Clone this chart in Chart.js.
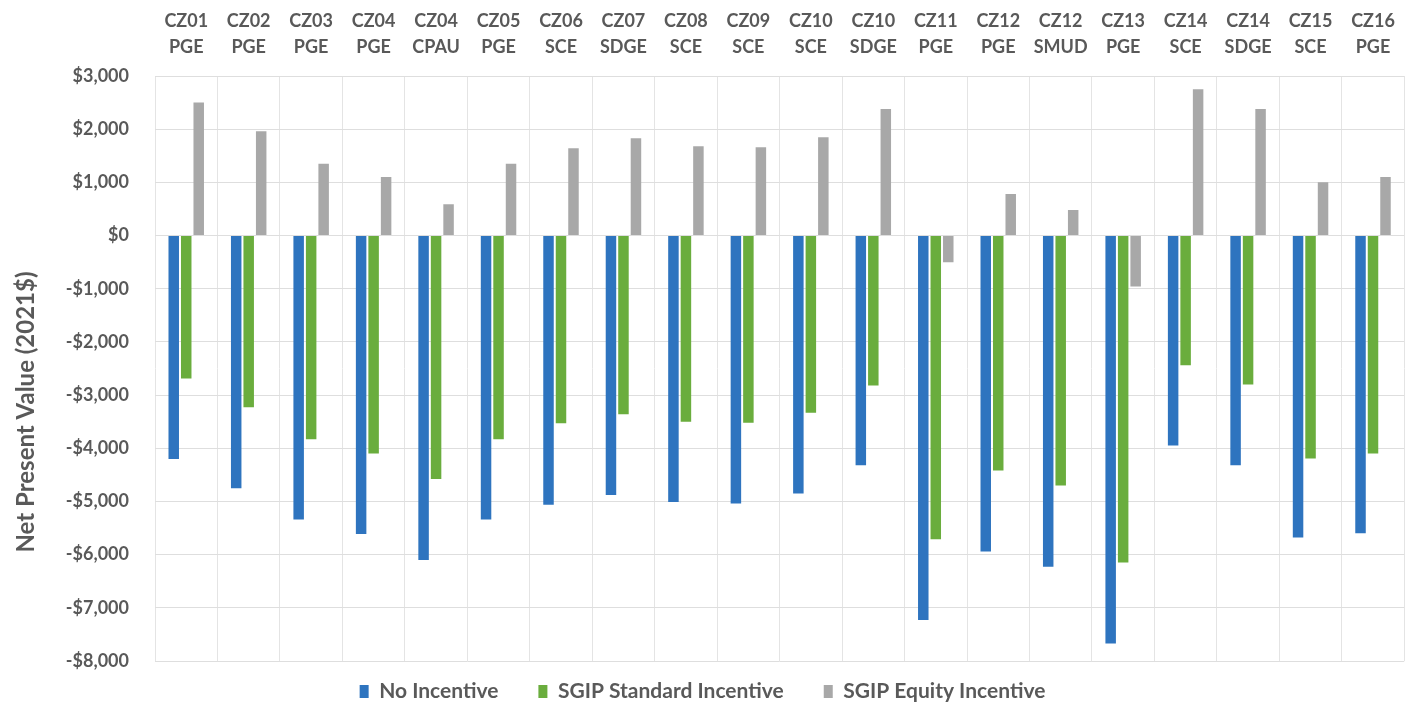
<!DOCTYPE html>
<html>
<head>
<meta charset="utf-8">
<title>Net Present Value by Climate Zone</title>
<script src="https://cdn.jsdelivr.net/npm/chart.js@4/dist/chart.umd.min.js"></script>
<style>
    html, body { margin: 0; padding: 0; background: #fff; }
    #wrap { width: 1411px; height: 709px; }
</style>
</head>
<body>
<div id="wrap"><canvas id="npvChart"></canvas></div>
<script>
// Climate zone / utility pairs (shown on two lines above the bars)
const zones = ['CZ01', 'CZ02', 'CZ03', 'CZ04', 'CZ04', 'CZ05', 'CZ06', 'CZ07', 'CZ08', 'CZ09',
    'CZ10', 'CZ10', 'CZ11', 'CZ12', 'CZ12', 'CZ13', 'CZ14', 'CZ14', 'CZ15', 'CZ16'];
const utilities = ['PGE', 'PGE', 'PGE', 'PGE', 'CPAU', 'PGE', 'SCE', 'SDGE', 'SCE', 'SCE',
    'SCE', 'SDGE', 'PGE', 'PGE', 'SMUD', 'PGE', 'SCE', 'SDGE', 'SCE', 'PGE'];

// NPV in 2021$
const noIncentive = [-4200, -4750, -5340, -5610, -6100, -5340, -5060, -4880, -5010, -5040,
    -4850, -4320, -7230, -5940, -6230, -7670, -3950, -4320, -5680, -5600];
const sgipStandard = [-2690, -3230, -3830, -4100, -4580, -3830, -3530, -3360, -3500, -3520,
    -3330, -2820, -5710, -4420, -4700, -6150, -2440, -2800, -4190, -4100];
const sgipEquity = [2500, 1960, 1350, 1100, 590, 1350, 1640, 1830, 1680, 1660,
    1850, 2380, -500, 780, 480, -960, 2750, 2380, 1000, 1100];

const yTicks = { min: -8000, max: 3000, step: 1000 };
const yTitle = 'Net Present Value (2021$)';

const FONT = 'Lato, "Open Sans", sans-serif';
const TEXT = '#595959';
const LEGEND_GAP = 40;

document.addEventListener('DOMContentLoaded', () => {
    renderChart();
});

function money(v) {
    const s = '$' + Math.abs(v).toLocaleString('en-US');
    return v < 0 ? '-' + s : s;
}

// legend padding doubles as the item gap, so raise the box top after layout
// (bottom stays put so the clip area still covers the labels)
// and draw the y title a little below the plot's middle
const layoutTweaks = {
    id: 'layoutTweaks',
    afterLayout(chart) {
        chart.legend.top -= LEGEND_GAP - 20;
    },
    afterDraw(chart) {
        const c = chart.ctx;
        c.save();
        c.translate(26, 412);
        c.rotate(-Math.PI / 2);
        c.font = `bold 24px ${FONT}`;
        c.fillStyle = TEXT;
        c.textAlign = 'center';
        c.textBaseline = 'middle';
        c.fillText(yTitle, 0, 0);
        c.restore();
    }
};

function renderChart() {
    const ctx = document.getElementById('npvChart').getContext('2d');

    const data = {
        labels: zones.map((z, i) => [z, utilities[i]]),
        datasets: [
            { label: 'No Incentive', data: noIncentive, backgroundColor: '#2e74bf' },
            { label: 'SGIP Standard Incentive', data: sgipStandard, backgroundColor: '#6aad3d' },
            { label: 'SGIP Equity Incentive', data: sgipEquity, backgroundColor: '#a8a8a8' },
        ]
    };

    new Chart(ctx, {
        type: 'bar',
        data,
        plugins: [layoutTweaks],
        options: {
            responsive: true,
            maintainAspectRatio: false,
            animation: false,
            layout: { padding: { left: 0, right: 6, top: 0, bottom: -3 } },
            datasets: { bar: { categoryPercentage: 0.6, barPercentage: 0.84 } },
            scales: {
                x: {
                    position: 'top',
                    grid: { color: '#e4e4e4', offset: true, drawTicks: false },
                    border: { display: false },
                    ticks: {
                        color: TEXT,
                        padding: 16,
                        maxRotation: 0,
                        autoSkip: false,
                        font: { family: FONT, size: 18, weight: 'bold', lineHeight: 1.45 },
                    },
                    afterFit: scale => { scale.height = 76; },
                },
                y: {
                    min: yTicks.min,
                    max: yTicks.max,
                    grid: { color: '#dedede', drawTicks: false },
                    border: { display: false },
                    ticks: {
                        stepSize: yTicks.step,
                        color: TEXT,
                        padding: 26,
                        font: { family: FONT, size: 18, weight: 'bold' },
                        callback: v => money(v),
                    },
                    afterFit: scale => { scale.width = 155; },
                }
            },
            plugins: {
                legend: {
                    position: 'bottom',
                    maxHeight: 51,
                    labels: {
                        color: TEXT,
                        boxWidth: 9,
                        boxHeight: 13,
                        padding: LEGEND_GAP,
                        font: { family: FONT, size: 21, weight: 'bold' },
                    }
                },
                tooltip: { enabled: false },
            }
        }
    });
}
</script>
</body>
</html>
